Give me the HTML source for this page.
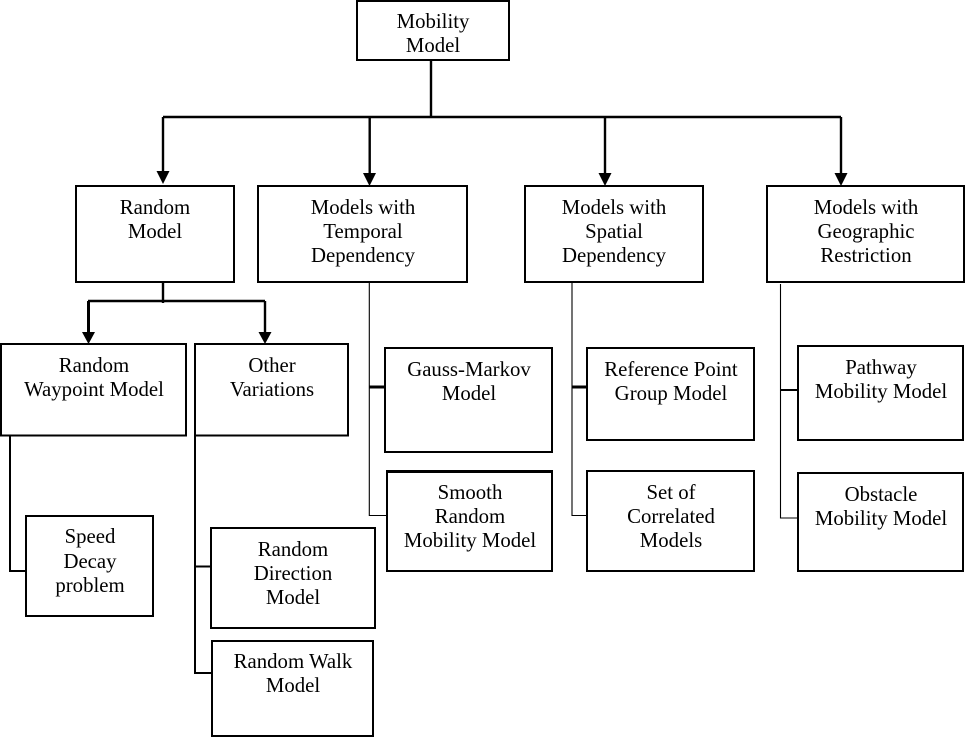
<!DOCTYPE html>
<html>
<head>
<meta charset="utf-8">
<style>
html,body{margin:0;padding:0;background:#fff;}
svg{display:block;}
text{font-family:"Liberation Serif",serif;font-size:20.8px;fill:#000;text-anchor:middle;}
rect{fill:#fff;stroke:#000;stroke-width:2;}
.l{stroke:#000;stroke-width:1.1;fill:none;}
.m{stroke:#000;stroke-width:2;fill:none;}
.t{stroke:#000;stroke-width:2.4;fill:none;}
.h{stroke:#000;stroke-width:3;fill:none;}
.a{fill:#000;stroke:none;}
</style>
</head>
<body>
<svg width="966" height="737" viewBox="0 0 966 737" xmlns="http://www.w3.org/2000/svg">
<!-- top connectors -->
<path class="t" d="M431 60V117M163 117H841M163 117V173M369.700 117V175M605 117V175M841 117V175"/>
<polygon class="a" points="156.500,171 169.500,171 163,184"/>
<polygon class="a" points="363,173 376,173 369.500,186"/>
<polygon class="a" points="598.500,173 611.500,173 605,186"/>
<polygon class="a" points="834.500,173 847.500,173 841,186"/>
<!-- random model connectors -->
<path class="t" d="M163 282V303M88 301H265M265 301V334"/>
<path class="h" d="M88.500 301V334"/>
<polygon class="a" points="82,332 95,332 88.500,344"/>
<polygon class="a" points="258.500,332 271.500,332 265,344"/>
<!-- thin trunks -->
<path class="l" d="M369.300 282V515.500H387"/>
<path class="h" d="M369 387H385"/>
<path class="l" d="M572 282V515.500H587"/>
<path class="h" d="M572 387H587"/>
<path class="l" d="M780.500 284V518H798"/>
<path class="m" d="M781 390H798"/>
<path class="m" d="M10 436V571H26"/>
<path class="m" d="M195 436V673H212M195 566.500H211"/>
<!-- boxes -->
<rect x="357" y="1" width="152" height="59"/>
<rect x="76" y="186" width="158" height="96"/>
<rect x="258" y="186" width="209" height="96"/>
<rect x="525" y="186" width="178" height="96"/>
<rect x="767" y="186" width="197" height="96"/>
<rect x="1" y="344" width="185" height="91.500"/>
<rect x="195" y="344" width="153" height="91.500"/>
<rect x="385" y="348" width="167" height="104"/>
<rect x="387" y="471" width="165" height="100"/>
<path class="h" d="M386 471.500H553"/>
<rect x="587" y="348" width="167" height="92"/>
<rect x="587" y="471" width="167" height="100"/>
<rect x="798" y="346" width="165" height="94"/>
<rect x="798" y="473" width="165" height="98"/>
<rect x="26" y="516" width="127" height="100"/>
<rect x="211" y="528" width="164" height="100"/>
<rect x="212" y="641" width="161" height="95"/>
<!-- labels -->
<text x="433" y="28">Mobility</text>
<text x="433" y="52">Model</text>
<text x="155" y="214">Random</text>
<text x="155" y="238">Model</text>
<text x="363" y="214">Models with</text>
<text x="363" y="238">Temporal</text>
<text x="363" y="262">Dependency</text>
<text x="614" y="214">Models with</text>
<text x="614" y="238">Spatial</text>
<text x="614" y="262">Dependency</text>
<text x="866" y="214">Models with</text>
<text x="866" y="238">Geographic</text>
<text x="866" y="262">Restriction</text>
<text x="94" y="372">Random</text>
<text x="94" y="396">Waypoint Model</text>
<text x="272" y="372">Other</text>
<text x="272" y="396">Variations</text>
<text x="469" y="376">Gauss-Markov</text>
<text x="469" y="400">Model</text>
<text x="470" y="499">Smooth</text>
<text x="470" y="523">Random</text>
<text x="470" y="547">Mobility Model</text>
<text x="671" y="376">Reference Point</text>
<text x="671" y="400">Group Model</text>
<text x="671" y="499">Set of</text>
<text x="671" y="523">Correlated</text>
<text x="671" y="547">Models</text>
<text x="881" y="374">Pathway</text>
<text x="881" y="398">Mobility Model</text>
<text x="881" y="501">Obstacle</text>
<text x="881" y="525">Mobility Model</text>
<text x="90" y="543">Speed</text>
<text x="90" y="568">Decay</text>
<text x="90" y="592">problem</text>
<text x="293" y="556">Random</text>
<text x="293" y="580">Direction</text>
<text x="293" y="604">Model</text>
<text x="293" y="668">Random Walk</text>
<text x="293" y="692">Model</text>
</svg>
</body>
</html>
